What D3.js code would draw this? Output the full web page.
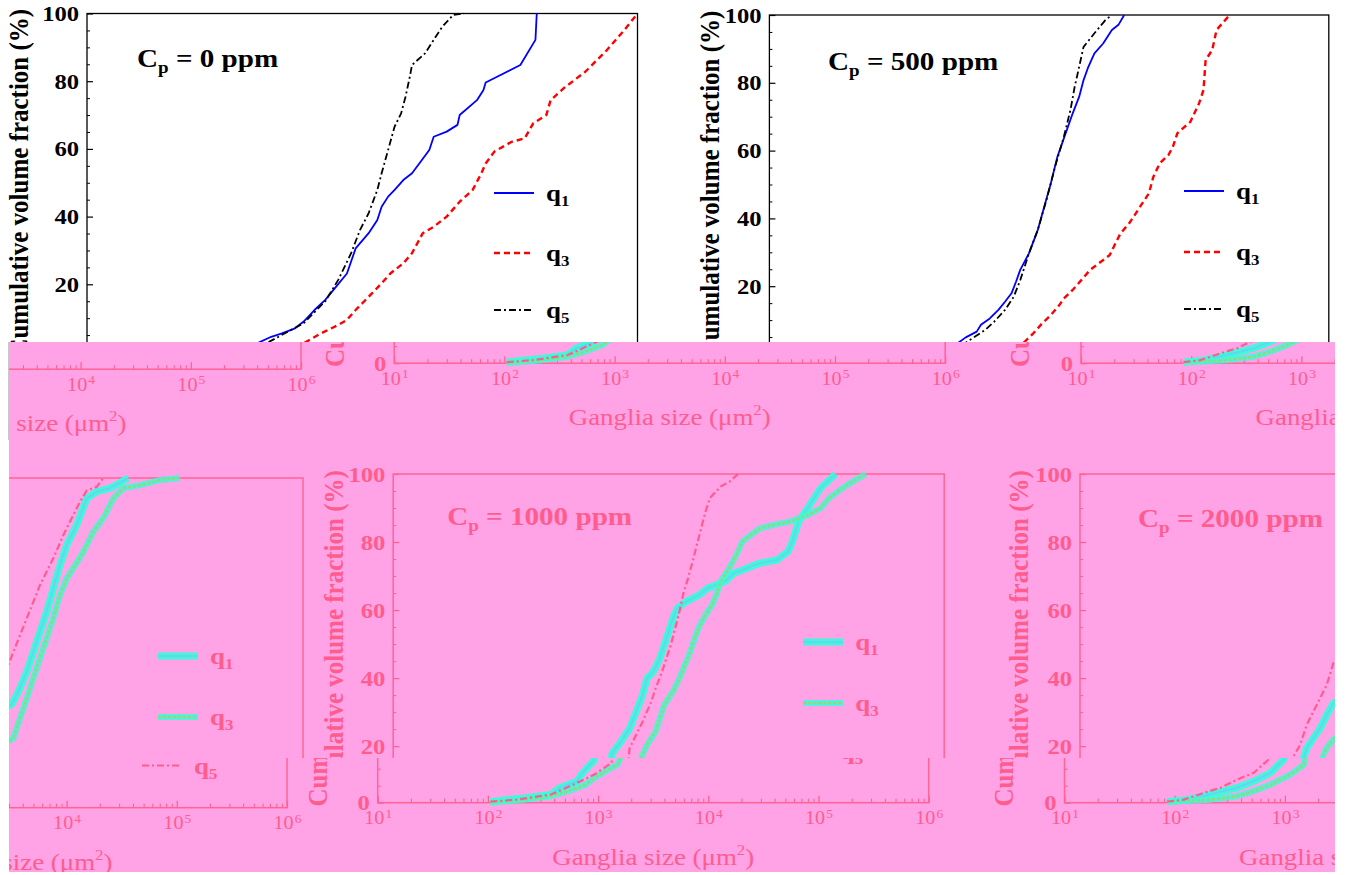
<!DOCTYPE html>
<html><head><meta charset="utf-8">
<script src="https://cdn.jsdelivr.net/npm/d3@7"></script>
<style>body{margin:0;background:#fff}svg{display:block}text{font-family:"Liberation Serif","Times New Roman",serif}</style>
</head><body><svg id="c" width="1354" height="875"></svg>
<script>
// ---------------- data ----------------
const xDecades = [1e1, 1e2, 1e3, 1e4, 1e5, 1e6];
const yTickVals = [0, 20, 40, 60, 80, 100];
const seriesKeys = ["q1", "q3", "q5"];
const cpLabels = ["0", "500", "1000", "2000"];
const yAxisTitle = "Cumulative volume fraction (%)";
const xAxisTitle = "Ganglia size (\u03bcm";

// [ganglia size (um^2), cumulative volume fraction (%)]
const cp0Q1 = [[300,1.5],[375,3.0],[471,4.5],[590,5.5],[774,7.0],[929,9.0],[1164,12.4],[1459,15.4],[1832,19.3],[2296,23.2],[2754,30.6],[3614,35.1],[4335,39.0],[4742,42.9],[5433,45.9],[6223,47.9],[7464,50.8],[8954,52.8],[10715,56.2],[12853,59.7],[14093,63.6],[18493,65.1],[23174,67.1],[24266,70.0],[34834,74.4],[39902,77.4],[41783,79.6],[86298,84.8],[118304,92.2],[121619,100]];
const cp0Q3 = [[800,1.0],[929,2.6],[1334,5.5],[1914,8.0],[2296,9.5],[2754,12.4],[3614,16.3],[4742,20.3],[5689,23.2],[7464,26.2],[8954,29.2],[11220,35.1],[14093,37.0],[18493,40.0],[24266,44.4],[31842,47.9],[38194,52.8],[41783,55.7],[50119,59.2],[71945,62.1],[94406,63.1],[113240,67.6],[148594,70.0],[162555,74.4],[213304,77.9],[335738,82.8],[527230,89.2],[758578,95.1],[1000000,100]];
const cp0Q5 = [[330,1.5],[450,3.0],[929,8.5],[1459,15.0],[1914,21.3],[2506,29.2],[3013,36.0],[3614,41.0],[4335,47.9],[4742,52.8],[5433,59.7],[6223,66.6],[7129,70.5],[7816,75.4],[8551,81.3],[8954,84.8],[11749,88.2],[14093,92.2],[16866,96.1],[21184,99.6],[26546,100]];

const cp500Q1 = [[450,2.5],[569,4.9],[713,6.6],[778,8.6],[933,10.5],[1114,13.0],[1276,15.4],[1459,17.9],[1600,21.3],[1746,24.8],[2089,29.7],[2506,36.6],[2864,43.5],[3281,50.4],[3750,58.2],[4285,63.6],[5140,71.0],[5875,75.9],[6427,80.8],[7015,84.3],[8035,88.7],[9616,91.6],[11508,95.6],[13183,97.1],[14825,100]];
const cp500Q3 = [[1600,1.5],[1914,3.6],[2286,6.1],[2735,9.0],[3281,11.5],[3917,14.5],[4285,16.4],[5140,18.9],[6138,21.8],[7345,24.8],[9183,27.2],[11015,29.2],[12589,33.1],[13772,35.6],[16482,38.6],[18836,41.5],[21577,44.5],[24660,47.4],[27040,52.3],[30903,56.3],[36898,58.7],[40458,61.2],[44259,65.1],[57943,68.5],[69343,74.0],[75858,77.9],[79250,86.7],[90782,89.7],[99312,95.6],[130017,100]];
const cp500Q5 = [[520,2.5],[650,4.6],[851,7.1],[1019,9.5],[1276,13.0],[1528,16.9],[1746,21.8],[2089,29.7],[2506,36.6],[2992,45.4],[3581,55.3],[4285,64.1],[4909,72.0],[5358,78.9],[5610,81.8],[6427,90.6],[8035,94.6],[10069,98.5],[11508,100]];

const cp1000Q1 = [[105,0.3],[151,0.9],[217,1.4],[374,2.4],[449,4.4],[644,6.3],[705,8.3],[845,11.2],[912,12.2],[970,17.9],[1164,21.3],[1396,25.2],[1600,30.1],[1832,35.0],[2004,39.9],[2296,41.9],[2630,45.8],[2884,49.7],[3155,53.6],[3451,57.6],[3784,60.5],[4539,62.5],[5957,64.4],[7129,66.4],[10257,68.4],[12303,70.8],[14723,71.8],[21184,73.8],[30409,74.7],[38282,77.2],[41783,80.1],[47863,86.0],[57412,89.9],[75336,95.8],[103514,100]];
const cp1000Q3 = [[105,0],[217,0.9],[374,1.9],[537,3.4],[773,5.3],[925,7.3],[1109,8.8],[1330,10.3],[1500,11.2],[1832,17.4],[2004,20.3],[2404,24.3],[2630,28.2],[2884,32.1],[3451,36.0],[3954,39.9],[4539,44.8],[4966,47.8],[5433,51.7],[5957,55.1],[6823,58.6],[7816,61.5],[8551,64.4],[9354,68.4],[11220,72.3],[13459,77.2],[14723,80.1],[17660,82.1],[21184,84.0],[27797,85.0],[39902,86.0],[57412,87.9],[75336,89.9],[90365,92.9],[118577,95.8],[155597,98.2],[194536,100]];
const cp1000Q5 = [[105,0.3],[181,0.9],[374,2.4],[644,5.8],[925,8.3],[1327,11.7],[1396,19.4],[1600,23.3],[1832,27.2],[2004,30.1],[2198,33.1],[2404,37.0],[2754,41.9],[3013,45.8],[3304,49.7],[3614,54.6],[3954,59.5],[4335,65.4],[4742,69.3],[5200,74.2],[5689,79.1],[6223,84.0],[6823,88.9],[7464,92.9],[9354,96.3],[11220,97.7],[13459,100]];

const cp2000Q1 = [[85,0.3],[130,0.9],[211,2.4],[369,4.4],[522,6.3],[740,8.8],[977,12.7],[1140,19.4],[1309,22.3],[1507,25.2],[1734,29.2],[1991,32.6],[2275,33.5],[2612,37.2],[3112,43.1],[3573,48.9],[4102,54.8],[4721,60.7],[5420,67.6],[6237,74.4],[7178,80.3],[8831,86.2],[9817,90.1],[10889,94.0],[13428,96.0],[17742,97.0],[26002,100]];
const cp2000Q3 = [[85,0.3],[211,0.9],[369,1.9],[522,3.4],[740,5.3],[1125,8.3],[1486,11.2],[1615,17.4],[1734,19.5],[1991,22.0],[2355,23.5],[2704,29.4],[3112,35.2],[3573,41.1],[4102,47.0],[4721,52.9],[5420,58.8],[6237,65.6],[7178,70.5],[8241,73.5],[10139,78.3],[12503,84.2],[15417,88.2],[19011,94.0],[23388,97.0],[33189,97.9],[50350,99.4],[76560,100]];
const cp2000Q5 = [[85,0.3],[121,0.9],[184,2.9],[261,4.4],[369,6.8],[522,8.8],[740,13.2],[991,20.3],[1140,26.2],[1309,30.1],[1507,34.1],[1734,38.0],[1991,44.4],[2118,45.0],[2355,48.9],[2704,53.8],[3112,58.7],[3573,63.6],[4102,68.5],[4721,72.5],[5420,76.4],[6683,83.2],[7691,87.2],[9462,93.0],[10889,96.3],[13428,97.4],[15417,100]];

const panelSeries = {
  "0":    {q1: cp0Q1, q3: cp0Q3, q5: cp0Q5},
  "500":  {q1: cp500Q1, q3: cp500Q3, q5: cp500Q5},
  "1000": {q1: cp1000Q1, q3: cp1000Q3, q5: cp1000Q5},
  "2000": {q1: cp2000Q1, q3: cp2000Q3, q5: cp2000Q5}
};

// ---------------- layout / styles ----------------
const SX = 1.12;
const layouts = {
  "0":    {x:87,    y:13.5, w:550.5, h:338.5, title:[50,53],   legX:407, legY:[179.5,239.5,296.5], ylab:-68},
  "500":  {x:769.4, y:15,   w:559.4, h:339,   title:[58.6,55], legX:414.6, legY:[176,237,294], ylab:-60},
  "1000": {x:393.2, y:474,  w:551,   h:340.2, title:[54,51],   legX:410, legY:[168,229,288], ylab:-60},
  "2000": {x:1080,  y:474,  w:551,   h:340.2, title:[58,52.7], legX:406, legY:[178,239,298], ylab:-61}
};
const themeNormal = {
  ink:"#000", frame:"#000", frameW:1.3,
  styles:{
    q1:[{stroke:"#0000ff", width:1.8}],
    q3:[{stroke:"#ff0000", width:2.4, dash:"6,4"}],
    q5:[{stroke:"#000", width:1.8, dash:"7,3,2,3"}]
  }
};
const themePink = {
  ink:"#ff5c8e", frame:"#ff6494", frameW:1.5,
  styles:{
    q1:[{stroke:"#3cfcd8", width:7},{stroke:"#74c8ff", width:1.5}],
    q3:[{stroke:"#3cfcd8", width:6, opacity:0.85},{stroke:"#9cd66a", width:2.2, dash:"3,2"}],
    q5:[{stroke:"#ff5c8e", width:2.2, dash:"7,3,2,3"}]
  }
};

const svg = d3.select("#c");
const defs = svg.append("defs");
svg.append("rect").attr("width",1354).attr("height",875).attr("fill","#fff");

function addClip(id, x0, y0, x1, y1){
  defs.append("clipPath").attr("id", id).append("rect")
    .attr("x", x0).attr("y", y0).attr("width", x1 - x0).attr("height", y1 - y0);
}

function drawPanel(parent, cp, th){
  const L = layouts[cp];
  const data = panelSeries[cp];
  const p = parent.append("g").attr("transform", `translate(${L.x},${L.y})`);
  const x = d3.scaleLog().domain([10, 1e6]).range([0, L.w]);
  const y = d3.scaleLinear().domain([0, 100]).range([L.h, 0]);

  // minor ticks
  const minorX = [];
  xDecades.slice(0, -1).forEach(d => { for (let k = 2; k <= 9; k++) minorX.push(k * d); });
  p.append("g").attr("transform", `translate(0,${L.h})`).attr("color", th.ink)
    .call(d3.axisBottom(x).tickValues(minorX).tickSizeInner(-4).tickSizeOuter(0).tickFormat(""))
    .call(g => g.select(".domain").remove());
  p.append("g").attr("color", th.ink)
    .call(d3.axisLeft(y).tickValues(d3.range(5, 100, 5).filter(v => v % 20)).tickSizeInner(-3).tickSizeOuter(0).tickFormat(""))
    .call(g => g.select(".domain").remove());

  // major x axis
  const gx = p.append("g").attr("transform", `translate(0,${L.h})`).attr("color", th.ink)
    .call(d3.axisBottom(x).tickValues(xDecades).tickSizeInner(-7).tickSizeOuter(0).tickPadding(9).tickFormat(() => "10"));
  gx.select(".domain").remove();
  gx.selectAll(".tick line").attr("stroke-width", 1.2);
  gx.selectAll(".tick text")
    .attr("font-family", "Liberation Serif, serif").attr("font-size", 18)
    .attr("transform", `scale(${SX},1)`)
    .each(function(d){
      d3.select(this).append("tspan").attr("dy", "-0.55em").attr("dx", "1")
        .attr("font-size", 12).text(Math.round(Math.log10(d)));
    });

  // major y axis
  const gy = p.append("g").attr("color", th.ink)
    .call(d3.axisLeft(y).tickValues(yTickVals).tickSizeInner(-6).tickSizeOuter(0).tickPadding(7));
  gy.select(".domain").remove();
  gy.selectAll(".tick line").attr("stroke-width", 1.2);
  gy.selectAll(".tick text")
    .attr("font-family", "Liberation Serif, serif").attr("font-size", 22).attr("font-weight", "bold")
    .attr("transform", `scale(${SX},1)`);

  // frame
  p.append("rect").attr("width", L.w).attr("height", L.h)
    .attr("fill", "none").attr("stroke", th.frame).attr("stroke-width", th.frameW);

  // curves
  const line = d3.line().x(d => x(d[0])).y(d => y(d[1]));
  seriesKeys.forEach(k => {
    th.styles[k].forEach(s => {
      p.append("path").datum(data[k]).attr("d", line)
        .attr("fill", "none").attr("stroke", s.stroke).attr("stroke-width", s.width)
        .attr("stroke-dasharray", s.dash || null).attr("opacity", s.opacity || 1)
        .attr("stroke-linejoin", "round");
    });
  });

  // legend
  seriesKeys.forEach((k, i) => {
    const ly = L.legY[i];
    th.styles[k].forEach(s => {
      p.append("line").attr("x1", L.legX).attr("x2", L.legX + 40).attr("y1", ly).attr("y2", ly)
        .attr("stroke", s.stroke).attr("stroke-width", s.width)
        .attr("stroke-dasharray", s.dash || null).attr("opacity", s.opacity || 1);
    });
    const t = p.append("g").attr("transform", `translate(${L.legX + 52},${ly + 8}) scale(${SX},1)`)
      .append("text").attr("font-size", 24).attr("font-weight", "bold").attr("fill", th.ink);
    t.append("tspan").text(k[0]);
    t.append("tspan").attr("font-size", 15).attr("dy", 5).text(k.slice(1));
  });

  // title
  const tt = p.append("g").attr("transform", `translate(${L.title[0]},${L.title[1]}) scale(${SX},1)`)
    .append("text").attr("font-size", 26).attr("font-weight", "bold").attr("fill", th.ink);
  tt.append("tspan").text("C");
  tt.append("tspan").attr("font-size", 17).attr("dy", 6).text("p");
  tt.append("tspan").attr("dy", -6).text(` = ${cp} ppm`);

  // y axis title
  p.append("g").attr("transform", `translate(${L.ylab},${L.h / 2}) rotate(-90) scale(1,${SX})`)
    .append("text").attr("text-anchor", "middle").attr("dominant-baseline", "central")
    .attr("font-size", 25).attr("font-weight", "bold").attr("fill", th.ink).text(yAxisTitle);

  // x axis title
  const xt = p.append("g").attr("transform", `translate(${L.w / 2},${L.h + 62}) scale(${SX},1)`)
    .append("text").attr("text-anchor", "middle").attr("font-size", 24).attr("fill", th.ink);
  xt.append("tspan").text(xAxisTitle);
  xt.append("tspan").attr("font-size", 15).attr("dy", -10).text("2");
  xt.append("tspan").attr("dy", 10).text(")");
}

// ---------------- composition ----------------
// top strip (normal colours)
addClip("clipTop", 0, 0, 1354, 342);
const topG = svg.append("g").attr("clip-path", "url(#clipTop)");
drawPanel(topG, "0", themeNormal);
drawPanel(topG, "500", themeNormal);
svg.append("line").attr("x1", 9.5).attr("x2", 9.5).attr("y1", 342).attr("y2", 440)
  .attr("stroke", "#222").attr("stroke-width", 1.5);

// pink strip
svg.append("rect").attr("x", 9).attr("y", 342).attr("width", 1326).attr("height", 530).attr("fill", "#ffa2e6");
const pieces = [
  {clip:[9, 342, 1335, 440], shifts:[[1, -451], [-1330, -445]]},
  {clip:[9, 440, 1335, 758], shifts:[[0, 0], [-1328, 4]]},
  {clip:[9, 758, 1335, 872], shifts:[[-15.5, -11.5], [-1344, -6.5]]}
];
pieces.forEach((pc, i) => {
  const id = "clipPiece" + i;
  addClip(id, ...pc.clip);
  const g = svg.append("g").attr("clip-path", `url(#${id})`);
  pc.shifts.forEach(s => {
    const gg = g.append("g").attr("transform", `translate(${s[0]},${s[1]})`);
    drawPanel(gg, "1000", themePink);
    drawPanel(gg, "2000", themePink);
  });
});
</script></body></html>
